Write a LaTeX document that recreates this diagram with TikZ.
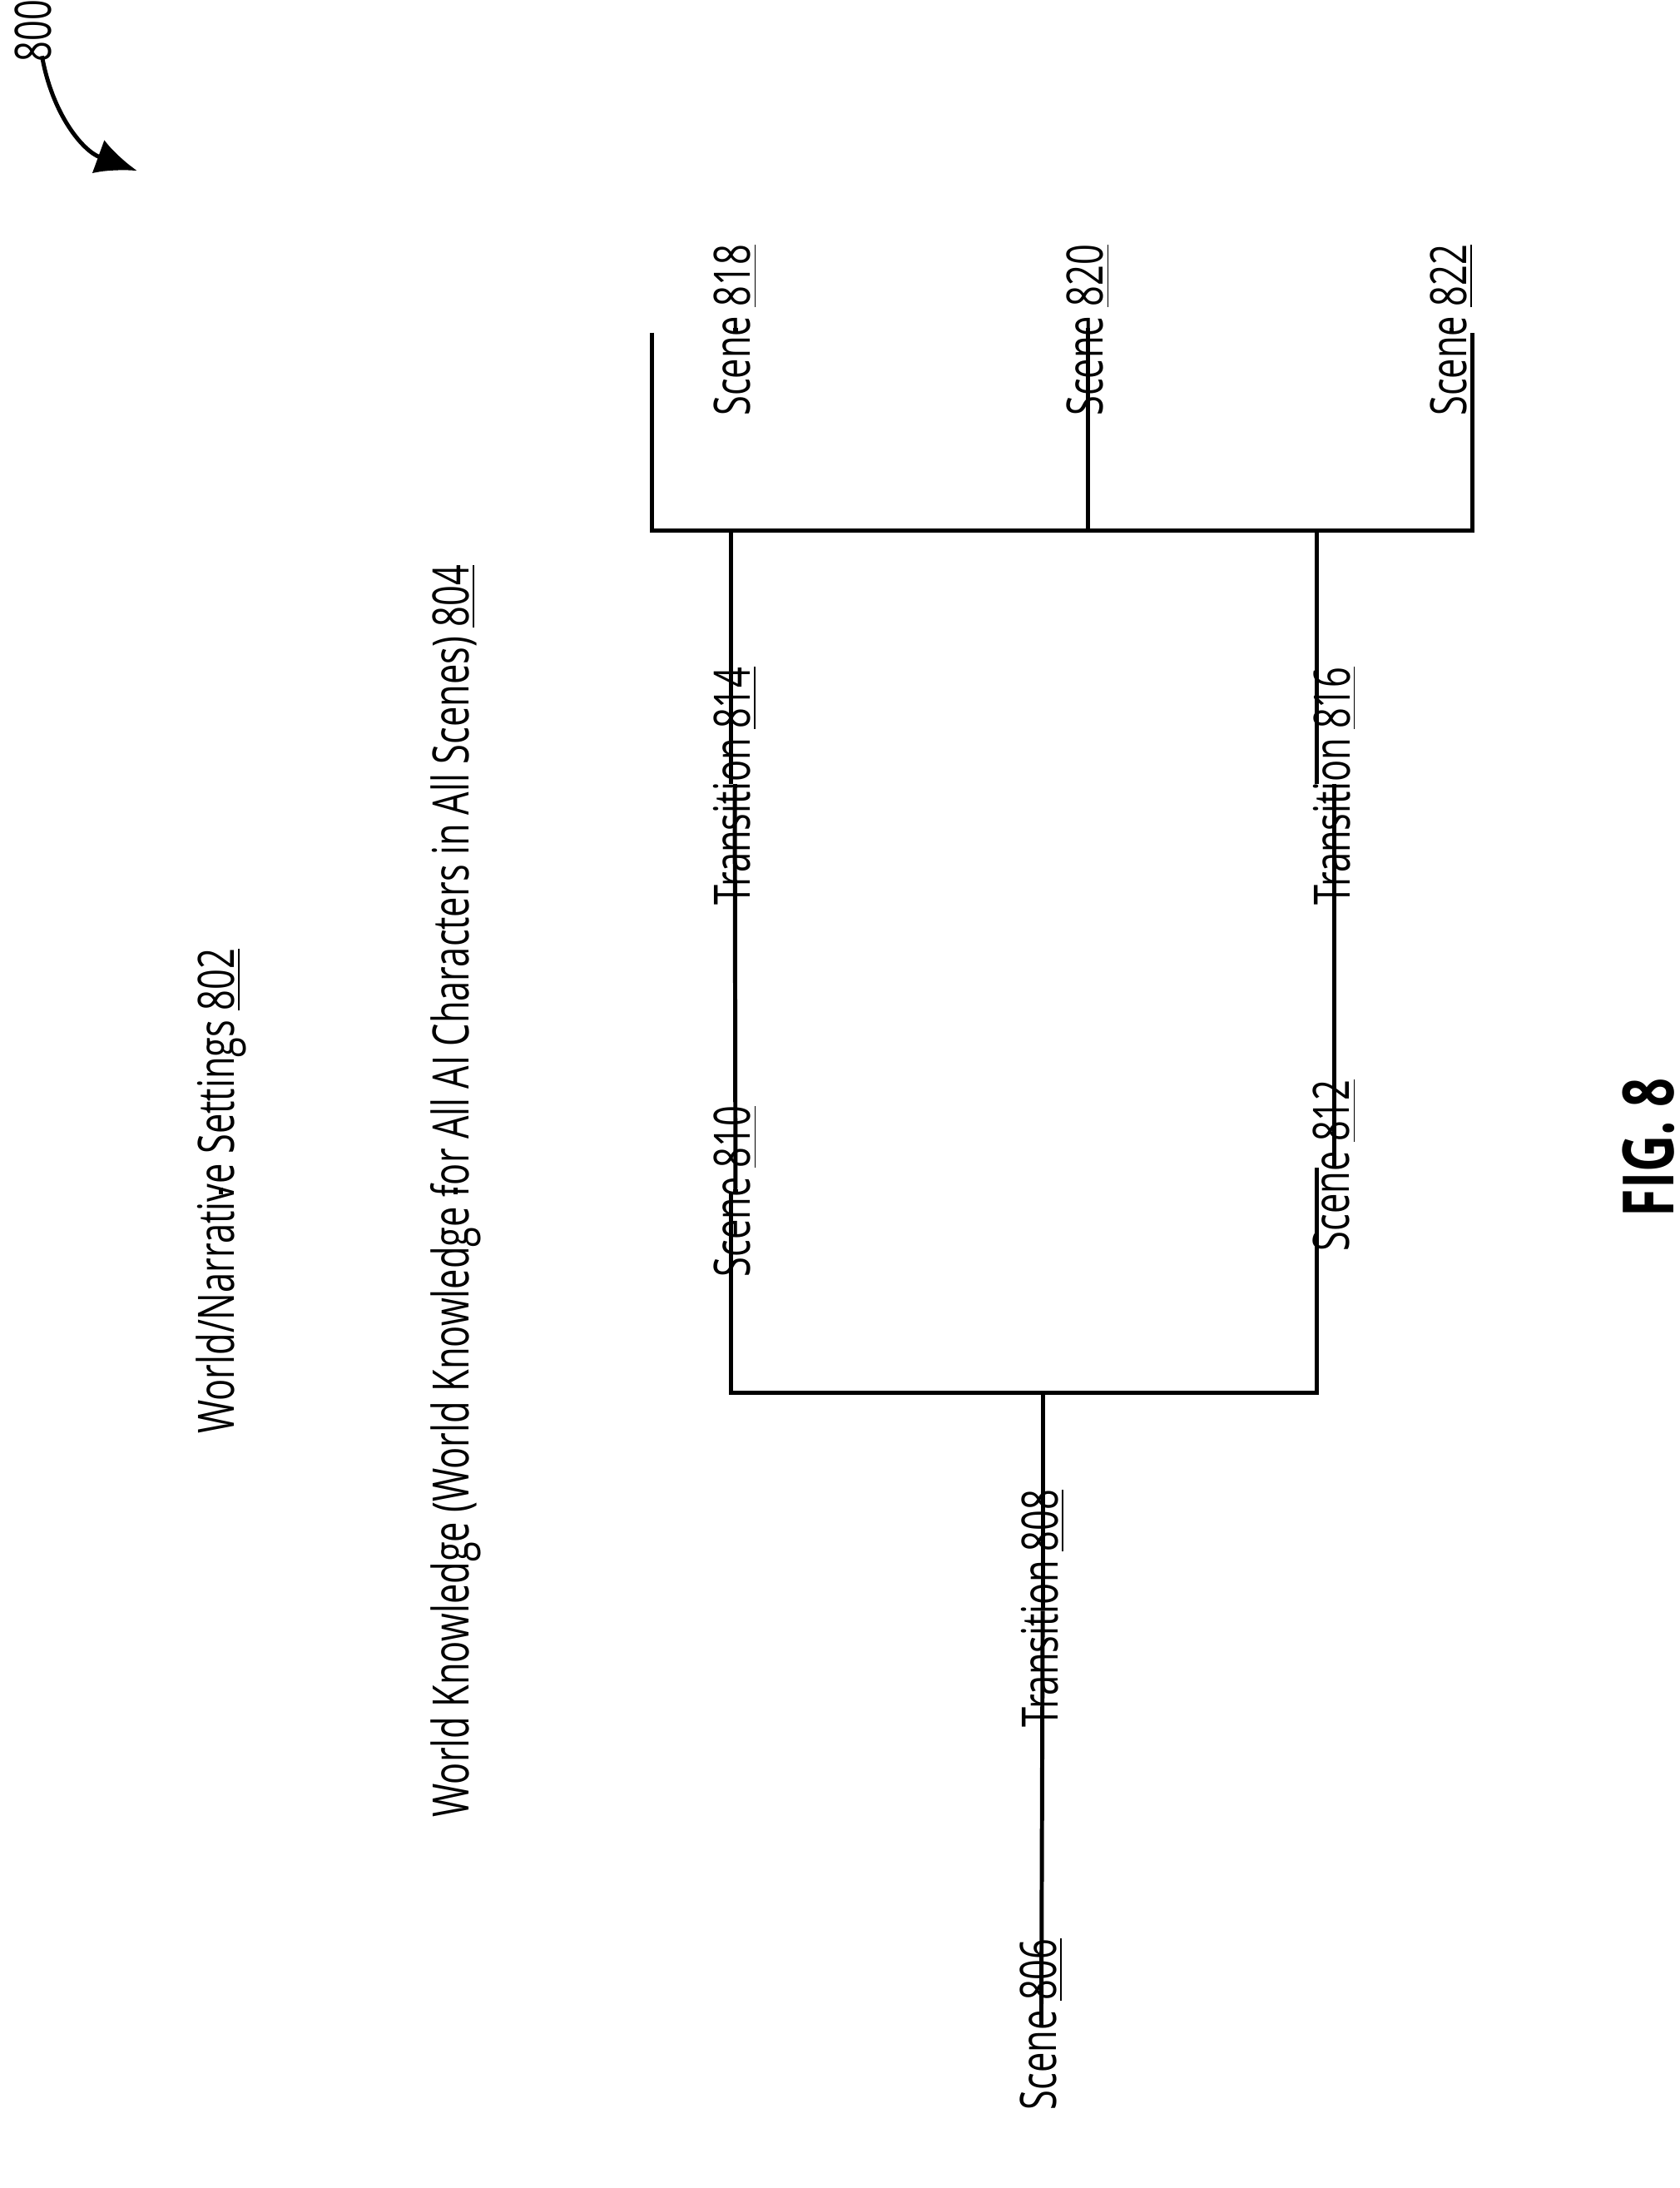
\documentclass[tikz,border=0pt]{standalone}
\usepackage{fontspec}
\setmainfont{Open Sans}[FakeStretch=0.72]
\usetikzlibrary{arrows.meta, positioning}
\tikzstyle{block}=[draw,line width=1.4pt,rectangle,inner sep=0pt]
\tikzstyle{every node}=[font=\fontsize{17}{20}\selectfont]
\tikzstyle{lbl}=[rotate=90]
\tikzstyle{wire}=[line width=1.4pt]
\newcommand{\refnum}[1]{\underline{#1}}

\begin{document}
\begin{tikzpicture}[x=1cm/60,y=-1cm/60,>=latex]
    \useasboundingbox (0,0) rectangle (1200,1563);
    % settings bars
    \node[block, minimum width=112/60 cm, minimum height=1407/60 cm] (ws) at (158,851) {};
    \node[lbl] at (ws) {World/Narrative Settings \refnum{802}};
    \node[block, minimum width=111/60 cm, minimum height=1407/60 cm] (wk) at (325.5,851) {};
    \node[lbl] at (wk) {World Knowledge (World Knowledge for All AI Characters in All Scenes) \refnum{804}};
    % scenes
    \node[block, minimum width=175/60 cm, minimum height=176/60 cm] (s818) at (525.5,236) {};
    \node[lbl] at (s818) {Scene \refnum{818}};
    \node[block, minimum width=175/60 cm, minimum height=176/60 cm] (s820) at (777.5,236) {};
    \node[lbl] at (s820) {Scene \refnum{820}};
    \node[block, minimum width=176/60 cm, minimum height=176/60 cm] (s822) at (1037,236) {};
    \node[lbl] at (s822) {Scene \refnum{822}};
    \node[block, minimum width=175/60 cm, minimum height=176/60 cm] (s810) at (525.5,851) {};
    \node[lbl] at (s810) {Scene \refnum{810}};
    \node[block, minimum width=177/60 cm, minimum height=175/60 cm] (s812) at (953.5,832.5) {};
    \node[lbl] at (s812) {Scene \refnum{812}};
    \node[block, minimum width=168/60 cm, minimum height=176/60 cm] (s806) at (744,1446) {};
    \node[lbl] at (s806) {Scene \refnum{806}};
    % transitions
    \node[block, minimum width=70/60 cm, minimum height=251/60 cm] (t814) at (525,561.5) {};
    \node[lbl] at (t814) {Transition \refnum{814}};
    \node[block, minimum width=83/60 cm, minimum height=251/60 cm] (t816) at (953.5,561.5) {};
    \node[lbl] at (t816) {Transition \refnum{816}};
    \node[block, minimum width=56/60 cm, minimum height=252/60 cm] (t808) at (745,1149) {};
    \node[lbl] at (t808) {Transition \refnum{808}};
    % junctions
    \coordinate (busA) at (466,379);
    \coordinate (busB) at (1052,379);
    \coordinate (busC) at (522,995);
    \coordinate (busD) at (941,995);
    \draw[wire] (s818.south -| busA) -- (busA) -- (busB) -- (s822.south -| busB);
    \draw[wire] (s820.south) -- (s820.south |- busA);
    \draw[wire] (t814.north -| busC) -- (busC |- busA);
    \draw[wire] (t816.north -| busD) -- (busD |- busA);
    \draw[wire] (t814.south) -- (s810.north);
    \draw[wire] (t816.south) -- (s812.north);
    \draw[wire] (s810.south -| busC) -- (busC) -- (busD) -- (s812.south -| busD);
    \draw[wire] (t808.north) -- (t808.north |- busC);
    \draw[wire] (t808.south) -- (s806.north);
    % reference label
    \node[lbl] (n800) at (24,22) {800};
    \coordinate (tip) at (98,122);
    \draw[wire, -{Latex[length=14pt,width=12pt]}] (30,40) to[out=-80,in=160] (tip);
    \node[lbl, font=\fontsize{24}{28}\selectfont\bfseries] (fig) at (1178,820) {FIG. 8};
\end{tikzpicture}
\end{document}
